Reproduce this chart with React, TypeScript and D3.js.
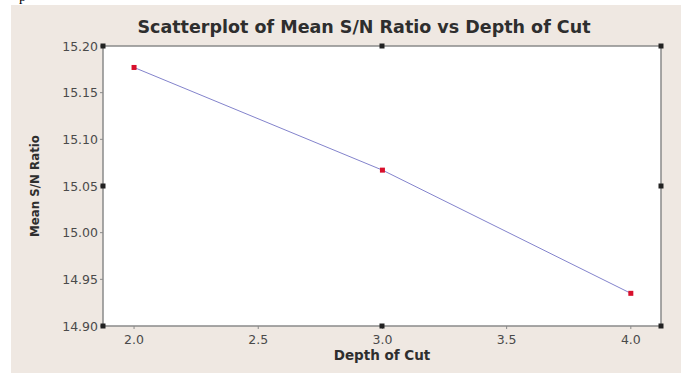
import React from "react";
import * as d3 from "d3";

const depthOfCut = [2.0, 3.0, 4.0];
const meanSN = [15.177, 15.067, 14.935];
const xTicks = [2.0, 2.5, 3.0, 3.5, 4.0];
const yTicks = [14.9, 14.95, 15.0, 15.05, 15.1, 15.15, 15.2];

const W = 681;
const H = 373;
const frame = { left: 103, right: 661, top: 46, bottom: 326 };

export default function App() {
  const x = d3.scaleLinear().domain([1.875, 4.1215]).range([frame.left, frame.right]);
  const y = d3.scaleLinear().domain([14.9, 15.2]).range([frame.bottom, frame.top]);
  const pts = depthOfCut.map((d, i) => [d, meanSN[i]] as [number, number]);
  const line = d3.line<[number, number]>().x((d) => x(d[0])).y((d) => y(d[1]));
  const midX = (frame.left + frame.right) / 2;
  const midY = (frame.top + frame.bottom) / 2;
  const handles = [
    [frame.left, frame.top], [midX, frame.top], [frame.right, frame.top],
    [frame.left, midY], [frame.right, midY],
    [frame.left, frame.bottom], [midX, frame.bottom], [frame.right, frame.bottom],
  ];
  const tickFont = "'DejaVu Sans', sans-serif";
  return (
    <svg width={W} height={H} style={{ position: "absolute", left: 0, top: 0 }}>
      <rect x={0} y={0} width={W} height={H} fill="#ffffff" />
      <text x={19} y={1} fontFamily="'Liberation Serif', serif" fontSize={14} fill="#000">p</text>
      <rect x={11} y={5} width={W - 11} height={H - 5} fill="#efe8e2" />
      <rect x={frame.left} y={frame.top} width={frame.right - frame.left} height={frame.bottom - frame.top} fill="#ffffff" stroke="#8a8a8a" strokeWidth={1.5} />
      <text x={364} y={33} textAnchor="middle" fontFamily="'DejaVu Sans', sans-serif" fontWeight="bold" fontSize={17.5} fill="#2e2e2e">
        Scatterplot of Mean S/N Ratio vs Depth of Cut
      </text>
      {yTicks.map((t) => (
        <g key={"y" + t}>
          <line x1={frame.left - 3} x2={frame.left} y1={y(t)} y2={y(t)} stroke="#8a8a8a" />
          <text x={frame.left - 5} y={y(t) + 4.5} textAnchor="end" fontFamily={tickFont} fontSize={12.5} fill="#4a4a4a">
            {d3.format(".2f")(t)}
          </text>
        </g>
      ))}
      {xTicks.map((t) => (
        <g key={"x" + t}>
          <line x1={x(t)} x2={x(t)} y1={frame.bottom} y2={frame.bottom + 3} stroke="#8a8a8a" />
          <text x={x(t)} y={344} textAnchor="middle" fontFamily={tickFont} fontSize={12.5} fill="#4a4a4a">
            {d3.format(".1f")(t)}
          </text>
        </g>
      ))}
      <text x={382} y={360} textAnchor="middle" fontFamily="'DejaVu Sans', sans-serif" fontWeight="bold" fontSize={13.5} fill="#2e2e2e">
        Depth of Cut
      </text>
      <text transform={`translate(39,${midY}) rotate(-90)`} textAnchor="middle" fontFamily="'DejaVu Sans', sans-serif" fontWeight="bold" fontSize={11.8} fill="#2e2e2e">
        Mean S/N Ratio
      </text>
      <path d={line(pts) || ""} fill="none" stroke="#8383cc" strokeWidth={1} />
      {pts.map((p, i) => (
        <rect key={i} x={x(p[0]) - 2.5} y={y(p[1]) - 2.5} width={5} height={5} fill="#d8102c" />
      ))}
      {handles.map((h, i) => (
        <rect key={"h" + i} x={h[0] - 2.5} y={h[1] - 2.5} width={5} height={5} fill="#222" />
      ))}
    </svg>
  );
}
